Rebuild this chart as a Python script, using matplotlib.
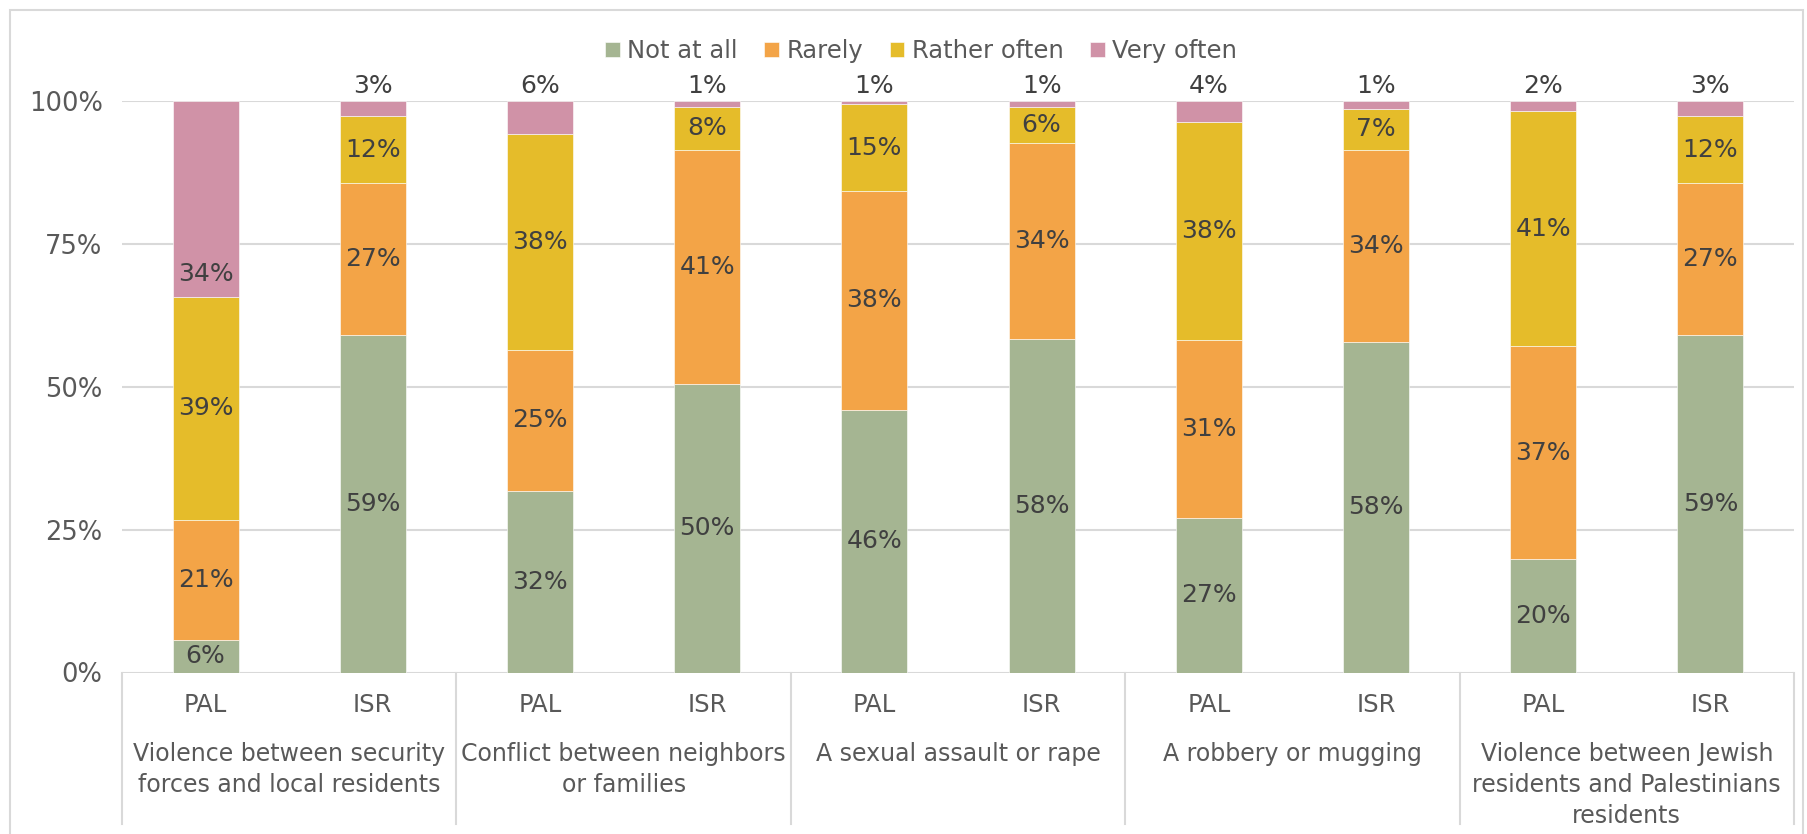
import numpy as np
import matplotlib.pyplot as plt
from matplotlib.patches import Rectangle

# survey answers, share of respondents (%)
series = ["Not at all", "Rarely", "Rather often", "Very often"]
colors = ["#A5B592", "#F3A447", "#E5BC2A", "#D092A7"]
groups = ["PAL", "ISR", "PAL", "ISR", "PAL", "ISR", "PAL", "ISR", "PAL", "ISR"]
topics = ["Violence between security\nforces and local residents",
          "Conflict between neighbors\nor families",
          "A sexual assault or rape",
          "A robbery or mugging",
          "Violence between Jewish\nresidents and Palestinians\nresidents"]

not_at_all = [5.6, 59.1, 31.8, 50.4, 46.0, 58.3, 27.0, 57.9, 19.8, 59.1]
rarely = [21.1, 26.6, 24.7, 41.1, 38.3, 34.4, 31.1, 33.6, 37.3, 26.6]
rather_often = [39.0, 11.6, 37.8, 7.5, 15.1, 6.3, 38.3, 7.1, 41.1, 11.6]
very_often = [34.3, 2.7, 5.7, 1.0, 0.6, 1.0, 3.6, 1.4, 1.8, 2.7]

values = [not_at_all, rarely, rather_often, very_often]

W, H = 1807, 834
fig = plt.figure(figsize=(W / 100, H / 100), dpi=100)
ax = fig.add_axes([122 / W, 1 - 672.5 / H, (1794 - 122) / W, (672.5 - 101) / H])

x = np.arange(len(groups))
bottom = np.zeros(len(groups))
for si, (name, vals, col) in enumerate(zip(series, values, colors)):
    vals = np.array(vals)
    ax.bar(x, vals, 0.395, bottom=bottom, color=col, label=name,
           edgecolor="white", linewidth=0.4, zorder=3)
    for i, v in enumerate(vals):
        lab = f"{v:.0f}%"
        if si == 3:
            if v > 10:
                ax.text(x[i], bottom[i] + 4.0, lab, ha="center", va="center",
                        fontsize=18, color="#404040", zorder=4)
            else:
                ax.text(x[i], 100.5, lab, ha="center", va="bottom",
                        fontsize=18, color="#404040", zorder=4)
        else:
            ax.text(x[i], bottom[i] + v / 2, lab, ha="center", va="center",
                    fontsize=18, color="#404040", zorder=4)
    bottom += vals

ax.set_xlim(-0.5, len(groups) - 0.5)
ax.set_ylim(0, 100)
ax.set_yticks([0, 25, 50, 75, 100])
ax.set_yticklabels(["0%", "25%", "50%", "75%", "100%"])
ax.tick_params(axis="y", length=0, pad=14, labelsize=18.5, labelcolor="#595959")
ax.set_xticks(x)
ax.set_xticklabels(groups)
ax.tick_params(axis="x", length=0, pad=15, labelsize=17.5, labelcolor="#595959")
ax.grid(axis="y", color="#D9D9D9", linewidth=1.5, zorder=0)
for s in ax.spines.values():
    s.set_visible(False)

# category boxes below the axis
trans = ax.get_xaxis_transform()
for b in np.arange(-0.5, len(groups), 2):
    ax.plot([b, b], [0, -0.265], transform=trans, color="#D9D9D9",
            linewidth=1.5, clip_on=False)
for k, t in enumerate(topics):
    ax.text(2 * k + 0.5, -0.121, t, transform=trans, ha="center", va="top",
            fontsize=17, color="#595959", linespacing=1.38)

fig.legend(loc="center", bbox_to_anchor=(921 / W, 1 - 51 / H), ncol=4,
           frameon=False, fontsize=17.5, handlelength=0.6, handleheight=0.6,
           handletextpad=0.3, columnspacing=1.1, labelcolor="#595959")

fig.patches.append(Rectangle((10 / W, -0.01), (1803 - 10) / W, 1.01 - 10 / H,
                             transform=fig.transFigure, fill=False,
                             edgecolor="#D9D9D9", linewidth=1.5))

fig.savefig("out.png", dpi=100, facecolor="white")
